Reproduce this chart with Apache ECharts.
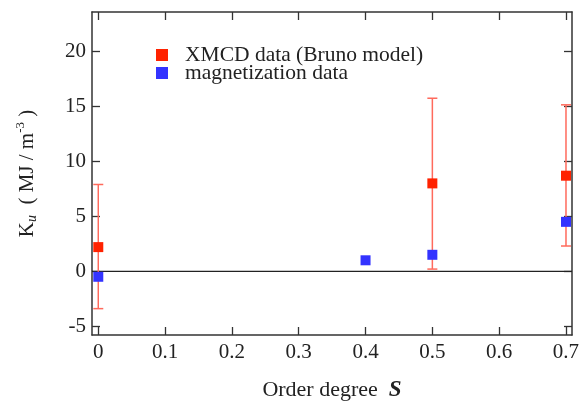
<!DOCTYPE html>
<html><head><meta charset="utf-8">
<script src="https://cdn.jsdelivr.net/npm/echarts@6/dist/echarts.min.js"></script>
<style>html,body{margin:0;padding:0;background:#fff}#c{width:581px;height:401px}</style>
</head><body><div id="c"></div>
<script>
const xTicks = [0, 0.1, 0.2, 0.3, 0.4, 0.5, 0.6, 0.7];
const yTicks = [-5, 0, 5, 10, 15, 20];
const xmcdS = [0, 0.5, 0.7];
const xmcdK = [2.2, 8.0, 8.7];
const xmcdLow = [-3.4, 0.2, 2.3];
const xmcdHigh = [7.9, 15.75, 15.15];
const magS = [0, 0.4, 0.5, 0.7];
const magK = [-0.5, 1.0, 1.5, 4.5];

const font = '"Liberation Serif","DejaVu Serif",serif';
const axisCol = '#333';
const chart = echarts.init(document.getElementById('c'));

function axX(pos, show) {
  return {
    type: 'value', position: pos, min: -0.0094, max: 0.709,
    axisLine: {show: true, onZero: false, lineStyle: {color: axisCol, width: 1.5}},
    axisTick: {show: true, inside: true, length: 8, customValues: xTicks, lineStyle: {color: axisCol, width: 1.3}},
    axisLabel: {show: show, customValues: xTicks, color: '#222', fontFamily: font, fontSize: 21, margin: 7},
    splitLine: {show: false}
  };
}
function axY(pos, show) {
  return {
    type: 'value', position: pos, min: -5.8, max: 23.6,
    axisLine: {show: true, onZero: false, lineStyle: {color: axisCol, width: 1.5}},
    axisTick: {show: true, inside: true, length: 8, customValues: yTicks, lineStyle: {color: axisCol, width: 1.3}},
    axisLabel: {show: show, customValues: yTicks, color: '#222', fontFamily: font, fontSize: 21, margin: 6},
    splitLine: {show: false}
  };
}
const xa0 = axX('bottom', true);
xa0.name = '{a|Order degree  }{b|S}';
xa0.nameLocation = 'middle';
xa0.nameGap = 44;
xa0.nameTextStyle = {rich: {
  a: {fontFamily: font, fontSize: 22, color: '#222'},
  b: {fontFamily: font, fontSize: 23, color: '#222', fontStyle: 'italic', fontWeight: 'bold'}
}};
const ya0 = axY('left', true);
ya0.name = '{a|K}{s|u}{a|  ( MJ / m}{p|-3}{a| )}';
ya0.nameLocation = 'middle';
ya0.nameGap = 51;
ya0.nameRotate = 90;
ya0.nameTextStyle = {rich: {
  a: {fontFamily: font, fontSize: 21, color: '#222', lineHeight: 28, verticalAlign: 'middle'},
  s: {fontFamily: font, fontSize: 14, color: '#222', fontStyle: 'italic', padding: [11, 0, 0, 0], lineHeight: 28},
  p: {fontFamily: font, fontSize: 13, color: '#222', padding: [0, 0, 13, 0], lineHeight: 28}
}};

chart.setOption({
  animation: false,
  backgroundColor: '#fff',
  grid: {left: 92, top: 12, right: 9, bottom: 66, containLabel: false, outerBoundsMode: 'none'},
  legend: {
    left: 151, top: 39, orient: 'vertical', itemGap: -4, itemWidth: 12, itemHeight: 12,
    textStyle: {fontFamily: font, fontSize: 21.5, color: '#222', padding: [0, 0, 0, 12]},
    data: [{name: 'XMCD data (Bruno model)', icon: 'rect'}, {name: 'magnetization data', icon: 'rect'}]
  },
  xAxis: [xa0, axX('top', false)],
  yAxis: [ya0, axY('right', false)],
  series: [
    {
      type: 'line', data: [[-0.0094, 0], [0.709, 0]], symbol: 'none', silent: true,
      lineStyle: {color: '#222', width: 1.3}, z: 1
    },
    {
      type: 'custom', name: 'errs', silent: true, z: 2,
      data: xmcdS.map((s, i) => [s, xmcdLow[i], xmcdHigh[i]]),
      renderItem: function (params, api) {
        const lo = api.coord([api.value(0), api.value(1)]);
        const hi = api.coord([api.value(0), api.value(2)]);
        const w = 5;
        const st = {stroke: '#ff6a5c', lineWidth: 1.5};
        return {type: 'group', children: [
          {type: 'line', shape: {x1: lo[0], y1: lo[1], x2: hi[0], y2: hi[1]}, style: st},
          {type: 'line', shape: {x1: lo[0] - w, y1: lo[1], x2: lo[0] + w, y2: lo[1]}, style: st},
          {type: 'line', shape: {x1: hi[0] - w, y1: hi[1], x2: hi[0] + w, y2: hi[1]}, style: st}
        ]};
      }
    },
    {
      type: 'scatter', name: 'XMCD data (Bruno model)', symbol: 'rect', symbolSize: 10, z: 3,
      itemStyle: {color: '#ff2200', opacity: 1},
      data: xmcdS.map((s, i) => [s, xmcdK[i]])
    },
    {
      type: 'scatter', name: 'magnetization data', symbol: 'rect', symbolSize: 10, z: 4,
      itemStyle: {color: '#3333ff', opacity: 1},
      data: magS.map((s, i) => [s, magK[i]])
    }
  ]
});
</script></body></html>
